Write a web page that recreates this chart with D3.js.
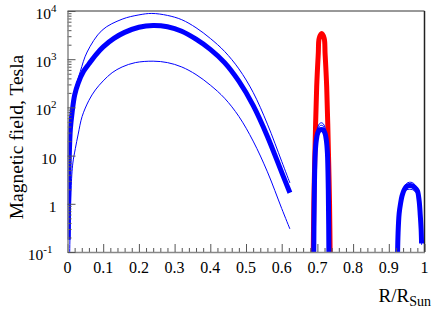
<!DOCTYPE html>
<html>
<head>
<meta charset="utf-8">
<script src="https://cdn.jsdelivr.net/npm/d3@7"></script>
<style>
body { margin: 0; background: #fff; }
text { font-family: "Liberation Serif", "DejaVu Serif", serif; fill: #000; }
</style>
</head>
<body>
<svg id="chart" width="436" height="309"></svg>
<script>
// Radius (R/RSun) and field (Tesla)
const mainR = [0.002, 0.003, 0.005, 0.008, 0.013, 0.02, 0.03, 0.045, 0.06, 0.08, 0.1, 0.13, 0.16, 0.2, 0.24, 0.28, 0.32, 0.36, 0.40, 0.44, 0.48, 0.52, 0.56, 0.60, 0.623];
const mainB = [0.18, 1, 10, 35, 80, 180, 320, 560, 800, 1250, 1800, 2700, 3600, 4600, 5000, 4700, 3800, 2600, 1600, 850, 350, 110, 25, 4.5, 1.7];

const upperR = [0.003, 0.004, 0.006, 0.009, 0.014, 0.022, 0.036, 0.055, 0.097, 0.153, 0.2, 0.236, 0.28, 0.32, 0.36, 0.40, 0.44, 0.48, 0.52, 0.56, 0.60, 0.623];
const upperB = [0.18, 2, 16, 56, 126, 250, 560, 1410, 4000, 6760, 8300, 8900, 8100, 6600, 4500, 2700, 1450, 630, 205, 45, 7.6, 2.7];

const lowerR = [0.006, 0.01, 0.015, 0.022, 0.03, 0.041, 0.06, 0.078, 0.1, 0.125, 0.153, 0.19, 0.24, 0.28, 0.32, 0.36, 0.40, 0.44, 0.48, 0.52, 0.56, 0.60, 0.623];
const lowerB = [0.08, 2, 7, 14, 28, 65, 140, 230, 355, 525, 690, 850, 910, 850, 690, 480, 290, 155, 65, 20, 4.6, 0.8, 0.3];

// tachocline
const tachoRedR = [0.688, 0.690, 0.693, 0.698, 0.7025, 0.705, 0.712, 0.719, 0.7215, 0.726, 0.731, 0.734, 0.736];
const tachoRedB = [0.05, 1, 11, 270, 1320, 2700, 3400, 2700, 1320, 270, 11, 1, 0.05];

const tachoR = [0.6895, 0.6915, 0.694, 0.697, 0.701, 0.706, 0.711, 0.716, 0.721, 0.725, 0.728, 0.7305, 0.7325];
const tachoB = [0.05, 2, 11.5, 21, 29.5, 34, 35, 34, 29.5, 21, 11.5, 2, 0.05];
const tachoThin1B = [0.05, 2.2, 13, 26, 39, 46, 48, 46, 39, 26, 13, 2.2, 0.05];
const tachoThin2B = [0.05, 2.1, 12, 23.5, 34, 41, 42.5, 41, 34, 23.5, 12, 2.1, 0.05];

// near surface
const surfR = [0.924, 0.926, 0.929, 0.933, 0.937, 0.943, 0.950, 0.958, 0.966, 0.973, 0.980, 0.985, 0.988, 0.9905, 0.9918];
const surfB = [0.05, 0.25, 0.63, 1.02, 1.45, 1.95, 2.3, 2.4, 2.35, 2.15, 1.86, 1.15, 0.6, 0.3, 0.15];
const surfThin1B = [0.05, 0.27, 0.68, 1.1, 1.6, 2.2, 2.65, 2.8, 2.75, 2.5, 2.1, 1.25, 0.65, 0.32, 0.16];
const surfThin2B = [0.05, 0.24, 0.6, 0.95, 1.3, 1.7, 1.95, 2.0, 1.97, 1.8, 1.6, 1.05, 0.57, 0.29, 0.14];

const xTicks = [0, 0.1, 0.2, 0.3, 0.4, 0.5, 0.6, 0.7, 0.8, 0.9, 1];
const xTickLabels = ["0", "0.1", "0.2", "0.3", "0.4", "0.5", "0.6", "0.7", "0.8", "0.9", "1"];
const yTicks = [0.1, 1, 10, 100, 1000, 10000];
const yTickBase = ["10", "1", "10", "10", "10", "10"];
const yTickExp = ["-1", "", "", "2", "3", "4"];

// Set up dimensions
const margin = { top: 11, right: 11.5, bottom: 57, left: 67.5 };
const width = 436 - margin.left - margin.right;
const height = 309 - margin.top - margin.bottom;

const svg = d3.select("#chart");
const g = svg.append("g").attr("transform", `translate(${margin.left},${margin.top})`);

const x = d3.scaleLinear().domain([0, 1]).range([0, width]);
const y = d3.scaleLog().domain([0.1, 10000]).range([height, 0]);

svg.append("defs").append("clipPath").attr("id", "clip")
    .append("rect").attr("x", 0).attr("y", 0).attr("width", width).attr("height", height);

// frame (top and right)
g.append("line").attr("x1", 0).attr("x2", width).attr("y1", 0).attr("y2", 0)
    .attr("stroke", "#333").attr("stroke-width", 1);
g.append("line").attr("x1", width).attr("x2", width).attr("y1", 0).attr("y2", height)
    .attr("stroke", "#222").attr("stroke-width", 1.5);

// curves
const line = d3.line()
    .x(d => x(d[0]))
    .y(d => y(d[1]))
    .curve(d3.curveCatmullRom.alpha(0.5));

const zip = (rs, bs) => rs.map((r, i) => [r, bs[i]]);

const curves = [
    { data: zip(tachoRedR, tachoRedB), color: "#ff0000", w: 5 },
    { data: zip(mainR, mainB), color: "#0000ff", w: 5 },
    { data: zip(upperR, upperB), color: "#0000ff", w: 1 },
    { data: zip(lowerR, lowerB), color: "#0000ff", w: 1 },
    { data: zip(tachoR, tachoB), color: "#0000ff", w: 5 },
    { data: zip(tachoR, tachoThin1B), color: "#0000ff", w: 1 },
    { data: zip(tachoR, tachoThin2B), color: "#0000ff", w: 1 },
    { data: zip(surfR, surfB), color: "#0000ff", w: 5 },
    { data: zip(surfR, surfThin1B), color: "#0000ff", w: 1 },
    { data: zip(surfR, surfThin2B), color: "#0000ff", w: 1 }
];

g.append("g").attr("clip-path", "url(#clip)")
    .selectAll("path")
    .data(curves)
    .enter().append("path")
    .attr("d", d => line(d.data))
    .attr("fill", "none")
    .attr("stroke", d => d.color)
    .attr("stroke-width", d => d.w)
    .attr("stroke-linecap", "butt")
    .attr("stroke-linejoin", "round");

// x axis: major and minor ticks pointing inward
const xMinor = d3.range(0, 1.0001, 0.02).filter(v => Math.abs(v * 10 - Math.round(v * 10)) > 1e-6);
g.append("g").attr("transform", `translate(0,${height})`)
    .call(d3.axisBottom(x).tickValues(xMinor).tickSizeInner(-4).tickSizeOuter(0).tickFormat(""))
    .call(a => a.select(".domain").remove())
    .selectAll("line").attr("stroke", "#555");
g.append("g").attr("transform", `translate(0,${height})`)
    .call(d3.axisBottom(x).tickValues(xTicks).tickSizeInner(-8).tickSizeOuter(0).tickFormat(""))
    .call(a => a.select(".domain").attr("stroke", "#888").attr("stroke-width", 1.5))
    .selectAll("line").attr("stroke", "#555");

g.selectAll("text.xlab")
    .data(xTicks)
    .enter().append("text")
    .attr("class", "xlab")
    .attr("x", d => x(d))
    .attr("y", height + 21)
    .attr("text-anchor", "middle")
    .style("font-size", "16px")
    .text((d, i) => xTickLabels[i]);

// y axis: log ticks
const yMinor = [];
[0.1, 1, 10, 100, 1000].forEach(dec => {
    for (let k = 2; k <= 9; k++) yMinor.push(dec * k);
});
g.append("g")
    .call(d3.axisLeft(y).tickValues(yMinor).tickSizeInner(-4).tickSizeOuter(0).tickFormat(""))
    .call(a => a.select(".domain").remove())
    .selectAll("line").attr("stroke", "#555");
g.append("g")
    .call(d3.axisLeft(y).tickValues(yTicks).tickSizeInner(-8).tickSizeOuter(0).tickFormat(""))
    .call(a => a.select(".domain").attr("stroke", "#888").attr("stroke-width", 1.5))
    .selectAll("line").attr("stroke", "#555");

const ylab = g.selectAll("text.ylab")
    .data(yTicks)
    .enter().append("text")
    .attr("class", "ylab")
    .attr("x", (d, i) => yTickExp[i] === "-1" ? -15 : -11)
    .attr("y", d => y(d) + 8)
    .attr("text-anchor", "end")
    .style("font-size", "15.5px");
ylab.append("tspan").text((d, i) => yTickBase[i]);
ylab.append("tspan")
    .attr("dy", -7)
    .style("font-size", "11px")
    .text((d, i) => yTickExp[i]);

// axis titles
svg.append("text")
    .attr("transform", `translate(23,${margin.top + 126}) rotate(-90)`)
    .attr("text-anchor", "middle")
    .style("font-size", "19.5px")
    .text("Magnetic field, Tesla");

const xt = svg.append("text")
    .attr("x", 431)
    .attr("y", 302)
    .attr("text-anchor", "end")
    .style("font-size", "19px");
xt.append("tspan").text("R/R");
xt.append("tspan").attr("dy", 4).style("font-size", "14px").text("Sun");
</script>
</body>
</html>
